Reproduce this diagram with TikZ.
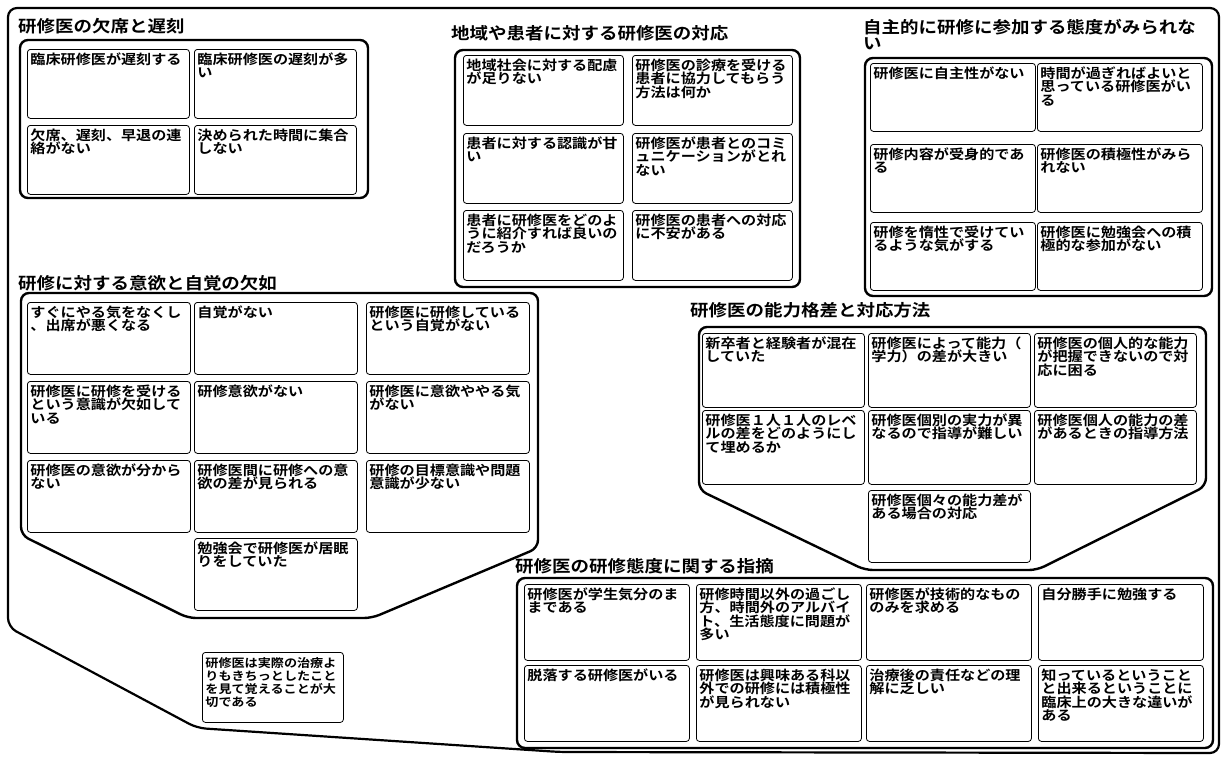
\documentclass[tikz,border=0pt]{standalone}
\usepackage{fontspec}
\setmainfont{Noto Sans CJK JP}[BoldFont={Noto Sans CJK JP Bold}, FakeStretch=1.12]
\usepackage{tikz}

\newcommand{\cellfont}{\bfseries\fontsize{13.5}{13.5}\selectfont}
\newcommand{\grpfont}{\bfseries\fontsize{16.5}{16}\selectfont}

\begin{document}
\begin{tikzpicture}[x=1pt, y=-1pt,
    frame/.style={line width=2.2pt, rounded corners=9pt},
    grp/.style={line width=2.4pt, rounded corners=8pt},
    grptitle/.style={anchor=west, inner sep=0pt, font=\grpfont},
    cell/.style={draw, line width=0.8pt, rounded corners=3pt, anchor=north west,
      inner sep=3pt, align=left, text height=12pt, font=\cellfont},
    ca/.style={cell, text width=156pt, text depth=51pt},
    cb/.style={cell, text width=154pt, text depth=52pt},
    cc/.style={cell, text width=159pt, text depth=50pt},
    cd/.style={cell, text width=157pt, text depth=54pt},
    cf/.style={cell, text width=156pt, text depth=56pt},
    cg/.style={cell, text width=159pt, text depth=58pt}]
  \useasboundingbox (0,0) rectangle (1223,756);

  % outer frame
  \draw[frame] (8,8) -- (1219,8) -- (1219,753) -- (560,752) -- (197,728) -- (8,627) -- cycle;

  % 研修医の欠席と遅刻
  \node[grptitle] (ta) at (18,26) {研修医の欠席と遅刻};
  \draw[grp] (20,40) rectangle (368,198);
  \node[ca] (a1) at (27,49) {臨床研修医が遅刻する};
  \node[ca] (a2) at (194,49) {臨床研修医の遅刻が多\\い};
  \node[ca] (a3) at (27,125) {欠席、遅刻、早退の連\\絡がない};
  \node[ca] (a4) at (194,125) {決められた時間に集合\\しない};

  % 地域や患者に対する研修医の対応
  \node[grptitle] (tb) at (451,33) {地域や患者に対する研修医の対応};
  \draw[grp] (455,50) rectangle (800,287);
  \node[cb] (b1) at (463,55) {地域社会に対する配慮\\が足りない};
  \node[cb] (b2) at (632,55) {研修医の診療を受ける\\患者に協力してもらう\\方法は何か};
  \node[cb] (b3) at (463,133) {患者に対する認識が甘\\い};
  \node[cb] (b4) at (632,133) {研修医が患者とのコミ\\ュニケーションがとれ\\ない};
  \node[cb] (b5) at (463,210) {患者に研修医をどのよ\\うに紹介すれば良いの\\だろうか};
  \node[cb] (b6) at (632,210) {研修医の患者への対応\\に不安がある};

  % 自主的に研修に参加する態度がみられない
  \node[grptitle, anchor=north west, align=left] (tc) at (863,19) {自主的に研修に参加する態度がみられな\\い};
  \draw[grp] (865,58) rectangle (1212,296);
  \node[cc] (c1) at (870,63) {研修医に自主性がない};
  \node[cc] (c2) at (1037,63) {時間が過ぎればよいと\\思っている研修医がい\\る};
  \node[cc] (c3) at (870,144) {研修内容が受身的であ\\る};
  \node[cc] (c4) at (1037,144) {研修医の積極性がみら\\れない};
  \node[cc] (c5) at (870,222) {研修を惰性で受けてい\\るような気がする};
  \node[cc] (c6) at (1037,222) {研修医に勉強会への積\\極的な参加がない};

  % 研修に対する意欲と自覚の欠如
  \node[grptitle] (td) at (18,283) {研修に対する意欲と自覚の欠如};
  \draw[grp] (21,293) -- (538,293) -- (538,548) -- (372,618) -- (188,618) -- (21,535) -- cycle;
  \node[cd] (d1) at (27,302) {すぐにやる気をなくし\\、出席が悪くなる};
  \node[cd] (d2) at (194,302) {自覚がない};
  \node[cd] (d3) at (366,302) {研修医に研修している\\という自覚がない};
  \node[cd] (d4) at (27,381) {研修医に研修を受ける\\という意識が欠如して\\いる};
  \node[cd] (d5) at (194,381) {研修意欲がない};
  \node[cd] (d6) at (366,381) {研修医に意欲ややる気\\がない};
  \node[cd] (d7) at (27,460) {研修医の意欲が分から\\ない};
  \node[cd] (d8) at (194,460) {研修医間に研修への意\\欲の差が見られる};
  \node[cd] (d9) at (366,460) {研修の目標意識や問題\\意識が少ない};
  \node[cd] (d10) at (194,538) {勉強会で研修医が居眠\\りをしていた};

  \node[cell, text width=135pt, text depth=52pt,
    font=\bfseries\fontsize{11.7}{13}\selectfont] (e1) at (202,652)
    {研修医は実際の治療よ\\りもきちっとしたこと\\を見て覚えることが大\\切である};

  % 研修医の能力格差と対応方法
  \node[grptitle] (tf) at (690,310) {研修医の能力格差と対応方法};
  \draw[grp] (699,327) -- (1206,327) -- (1206,486) -- (1037,570) -- (865,570) -- (699,490) -- cycle;
  \node[cf] (f1) at (702,333) {新卒者と経験者が混在\\していた};
  \node[cf] (f2) at (868,333) {研修医によって能力（\\学力）の差が大きい};
  \node[cf] (f3) at (1034,333) {研修医の個人的な能力\\が把握できないので対\\応に困る};
  \node[cf] (f4) at (702,410) {研修医１人１人のレベ\\ルの差をどのようにし\\て埋めるか};
  \node[cf] (f5) at (868,410) {研修医個別の実力が異\\なるので指導が難しい};
  \node[cf] (f6) at (1034,410) {研修医個人の能力の差\\があるときの指導方法};
  \node[cf, text depth=54pt] (f7) at (868,490) {研修医個々の能力差が\\ある場合の対応};

  % 研修医の研修態度に関する指摘
  \node[grptitle] (tg) at (515,566) {研修医の研修態度に関する指摘};
  \draw[grp] (517,578) rectangle (1213,748);
  \node[cg] (g1) at (524,584) {研修医が学生気分のま\\まである};
  \node[cg] (g2) at (696,584) {研修時間以外の過ごし\\方、時間外のアルバイ\\ト、生活態度に問題が\\多い};
  \node[cg] (g3) at (866,584) {研修医が技術的なもの\\のみを求める};
  \node[cg] (g4) at (1038,584) {自分勝手に勉強する};
  \node[cg] (g5) at (524,665) {脱落する研修医がいる};
  \node[cg] (g6) at (696,665) {研修医は興味ある科以\\外での研修には積極性\\が見られない};
  \node[cg] (g7) at (866,665) {治療後の責任などの理\\解に乏しい};
  \node[cg] (g8) at (1038,665) {知っているということ\\と出来るということに\\臨床上の大きな違いが\\ある};
\end{tikzpicture}
\end{document}
